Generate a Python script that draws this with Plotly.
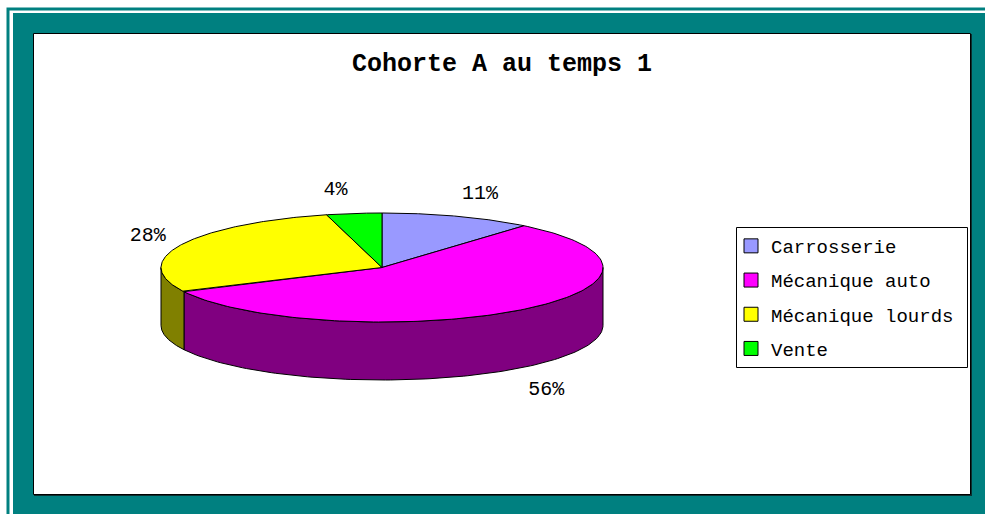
import numpy as np
import plotly.graph_objects as go

categories = ["Carrosserie", "Mécanique auto", "Mécanique lourds", "Vente"]
values = [11, 56, 28, 4]
top_colors = ["#9999FF", "#FF00FF", "#FFFF00", "#00FF00"]
side_colors = ["#4C4C80", "#800080", "#808000", "#008000"]
title = "Cohorte A au temps 1"

W, H = 985, 514
CX, CY, RX, RY, DEPTH = 382, 267.5, 221, 54.5, 58
MONO = "Liberation Mono"


def pt(theta, dy=0.0):
    return CX + RX * np.sin(theta), CY - RY * np.cos(theta) + dy


fig = go.Figure()
total = sum(values)
edges = np.concatenate([[0], np.cumsum(values)]) / total * 2 * np.pi

# side walls: only the front half of the disc (90 to 270 degrees) is visible
for i in range(len(values)):
    a = max(edges[i], np.pi / 2)
    b = min(edges[i + 1], 3 * np.pi / 2)
    if b > a:
        t = np.linspace(a, b, 120)
        x1, y1 = pt(t)
        x2, y2 = pt(t[::-1], DEPTH)
        fig.add_trace(go.Scatter(
            x=np.r_[x1, x2, x1[0]], y=np.r_[y1, y2, y1[0]], mode="lines",
            fill="toself", fillcolor=side_colors[i],
            line=dict(color="black", width=1), hoverinfo="skip", showlegend=False))

# top faces
for i in range(len(values)):
    t = np.linspace(edges[i], edges[i + 1], 160)
    x, y = pt(t)
    fig.add_trace(go.Scatter(
        x=np.r_[CX, x, CX], y=np.r_[CY, y, CY], mode="lines",
        fill="toself", fillcolor=top_colors[i],
        line=dict(color="black", width=1), hoverinfo="skip", showlegend=False))

# percentage labels
mid = (edges[:-1] + edges[1:]) / 2
lx = CX + 240 * np.sin(mid) + 16 * np.sign(np.sin(mid))
ly = CY + 2 - 80 * np.cos(mid) + DEPTH * (np.cos(mid) < 0) * (np.abs(np.sin(mid)) < 0.8)
fig.add_trace(go.Scatter(
    x=lx, y=ly, mode="text", text=[f"{v}%" for v in values],
    textposition="middle center", textfont=dict(family=MONO, size=20, color="black"),
    hoverinfo="skip", showlegend=False))

# legend entries
for name, col in zip(categories, top_colors):
    fig.add_trace(go.Scatter(
        x=[None], y=[None], mode="markers", name=name, legendgroup=name,
        marker=dict(symbol="square", size=14, color=col, line=dict(color="black", width=1))))

frame = [
    dict(type="rect", x0=8, y0=9, x1=W + 5, y1=H + 5, fillcolor="white",
         line=dict(color="#008080", width=3)),
    dict(type="rect", x0=13, y0=13, x1=W + 5, y1=H + 5, fillcolor="#008080", line=dict(width=0)),
    dict(type="rect", x0=34, y0=34, x1=972, y1=496, fillcolor="#0A3030", line=dict(width=0)),
    dict(type="rect", x0=33.5, y0=33.5, x1=970.5, y1=494.5, fillcolor="white",
         line=dict(color="black", width=1)),
    dict(type="rect", x0=736.5, y0=227.5, x1=967.5, y1=367.5, fillcolor="white",
         line=dict(color="black", width=1)),
]
for s in frame:
    s.update(xref="x", yref="y", layer="below")

fig.update_layout(
    width=W, height=H, margin=dict(l=0, r=0, t=0, b=0),
    paper_bgcolor="white", plot_bgcolor="white", shapes=frame,
    xaxis=dict(range=[0, W], visible=False, fixedrange=True),
    yaxis=dict(range=[H, 0], visible=False, fixedrange=True),
    annotations=[dict(x=501.5, y=64, xref="x", yref="y", text=f"<b>{title}</b>", showarrow=False,
                      font=dict(family=MONO, size=25, color="black"))],
    legend=dict(x=731 / W, y=1 - 227 / H, xanchor="left", yanchor="top",
                bgcolor="rgba(0,0,0,0)", borderwidth=0,
                font=dict(family=MONO, size=19, color="black"),
                tracegroupgap=6.5, itemclick=False, itemdoubleclick=False),
)
fig.write_html("out.html", config=dict(displayModeBar=False),
               post_script="document.body.style.margin='0';document.body.style.overflow='hidden';")
